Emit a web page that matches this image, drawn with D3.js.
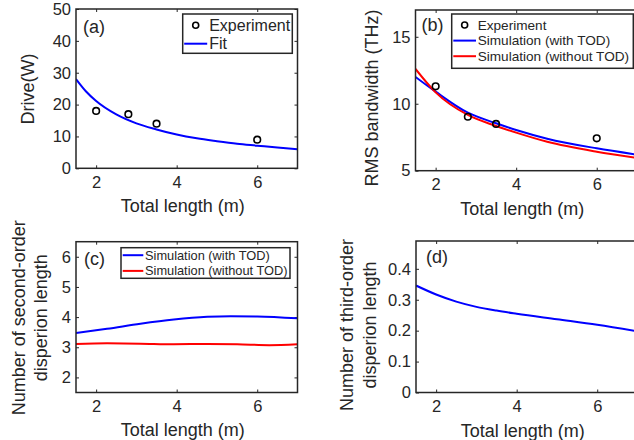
<!DOCTYPE html>
<html><head><meta charset="utf-8">
<script src="https://cdn.jsdelivr.net/npm/d3@7"></script>
<style>
body{margin:0;background:#fff;}
text{font-family:"Liberation Sans",Arial,sans-serif;fill:#262626;}
</style></head>
<body><svg id="c" width="634" height="440"></svg>
<script>
// ---------- data ----------
const xTicks = [2, 4, 6];
// (a)
const expLenA = [2, 2.8, 3.5, 6];
const expDrive = [18, 17, 14, 9];
const fitLen = [1.5, 1.75, 2, 2.5, 3, 3.5, 4, 4.5, 5, 5.5, 6, 6.5, 7];
const fitDrive = [28, 24.1, 21.1, 16.9, 14.1, 12.2, 10.6, 9.4, 8.5, 7.7, 7.1, 6.5, 6.0];
const yTicksA = [0, 10, 20, 30, 40, 50];
// (b)
const expLenB = [2, 2.8, 3.5, 6];
const expBw = [11.3, 9.03, 8.49, 7.42];
const simLenB = [1.5, 2, 2.8, 3.5, 4, 4.77, 6, 7];
const bwWithTOD = [12.0, 10.9, 9.33, 8.54, 8.04, 7.39, 6.67, 6.2];
const bwWithoutTOD = [12.6, 10.85, 9.16, 8.34, 7.84, 7.16, 6.42, 5.96];
const yTicksB = [5, 10, 15];
// (c)
const simLenC1 = [1.5, 2.27, 3.1, 3.93, 4.76, 5.34, 6.0, 7.0];
const ldWithTOD = [3.47, 3.61, 3.78, 3.92, 4.01, 4.03, 4.02, 3.96];
const simLenC2 = [1.5, 2.27, 3.1, 3.93, 4.76, 5.5, 6.3, 7.0];
const ldWithoutTOD = [3.11, 3.13, 3.12, 3.10, 3.11, 3.10, 3.07, 3.10];
const yTicksC = [2, 3, 4, 5, 6];
// (d)
const simLenD = [1.5, 2, 2.5, 3, 3.5, 4, 5, 6, 7];
const l3WithTOD = [0.346, 0.317, 0.294, 0.277, 0.265, 0.255, 0.237, 0.219, 0.198];
const yTicksD = [0, 0.1, 0.2, 0.3, 0.4];

const BLUE = "#0000ff", RED = "#ff0000", AX = "#262626";
const svg = d3.select("#c");

function panel(o) {
  const g = svg.append("g").attr("transform", `translate(${o.x},${o.y})`);
  const x = d3.scaleLinear().domain([1.5, 7]).range([0, o.w]);
  const y = d3.scaleLinear().domain(o.yDom).range([o.h, 0]);
  const fmt = d3.format("~g");
  const styleAxis = sel => {
    sel.select(".domain").remove();
    sel.selectAll("line").attr("stroke", AX).attr("stroke-width", 1);
    sel.selectAll("text").attr("fill", AX).style("font-size", "16.5px")
      .style("font-family", '"Liberation Sans",Arial,sans-serif');
  };
  g.append("g").attr("transform", `translate(0,${o.h})`)
    .call(d3.axisBottom(x).tickValues(xTicks).tickSizeInner(-3).tickSizeOuter(0).tickPadding(8).tickFormat(fmt))
    .call(styleAxis);
  g.append("g")
    .call(d3.axisTop(x).tickValues(xTicks).tickSizeInner(-3).tickSizeOuter(0).tickFormat(""))
    .call(styleAxis);
  g.append("g")
    .call(d3.axisLeft(y).tickValues(o.yTicks).tickSizeInner(-3).tickSizeOuter(0).tickPadding(5).tickFormat(fmt))
    .call(styleAxis);
  g.append("g").attr("transform", `translate(${o.w},0)`)
    .call(d3.axisRight(y).tickValues(o.yTicks).tickSizeInner(-3).tickSizeOuter(0).tickFormat(""))
    .call(styleAxis);

  const clipId = "clip" + o.name;
  g.append("clipPath").attr("id", clipId).append("rect").attr("width", o.w).attr("height", o.h);
  const plot = g.append("g").attr("clip-path", `url(#${clipId})`);
  const line = d3.line().x(d => x(d[0])).y(d => y(d[1])).curve(d3.curveMonotoneX);
  o.lines.forEach(l => {
    plot.append("path").datum(d3.zip(l.xs, l.ys)).attr("d", line)
      .attr("fill", "none").attr("stroke", l.color).attr("stroke-width", 2);
  });
  if (o.points) {
    g.selectAll(null).data(d3.zip(o.points.xs, o.points.ys)).join("circle")
      .attr("cx", d => x(d[0])).attr("cy", d => y(d[1])).attr("r", 3.3)
      .attr("fill", "none").attr("stroke", "#000").attr("stroke-width", 1.6);
  }
  g.append("rect").attr("width", o.w).attr("height", o.h)
    .attr("fill", "none").attr("stroke", AX).attr("stroke-width", 1.5);

  g.append("text").attr("x", o.tagX).attr("y", o.tagY).style("font-size", "18px").text(o.tag);

  // x label
  g.append("text").attr("x", o.w / 2 - 4).attr("y", o.h + 44).attr("text-anchor", "middle")
    .style("font-size", "18px").text("Total length (m)");
  // y label
  o.ylab.forEach((t, i) => {
    g.append("text").attr("transform", `translate(${o.ylabX[i]},${o.ylabY}) rotate(-90)`)
      .attr("text-anchor", "middle").style("font-size", "18px").text(t);
  });
  // legend
  if (o.legend) {
    const L = o.legend;
    const lg = svg.append("g").attr("transform", `translate(${L.x},${L.y})`);
    lg.append("rect").attr("width", L.w).attr("height", L.h).attr("fill", "#fff")
      .attr("stroke", AX).attr("stroke-width", 1.5);
    L.items.forEach((it, i) => {
      const cy = L.row0 + i * L.dy;
      if (it.type === "marker") {
        lg.append("circle").attr("cx", L.sx + L.sw / 2).attr("cy", cy).attr("r", 3)
          .attr("fill", "none").attr("stroke", "#000").attr("stroke-width", 1.6);
      } else {
        lg.append("line").attr("x1", L.sx).attr("x2", L.sx + L.sw).attr("y1", cy).attr("y2", cy)
          .attr("stroke", it.color).attr("stroke-width", 2);
      }
      lg.append("text").attr("x", L.tx).attr("y", cy).attr("dy", "0.35em")
        .style("font-size", L.fs + "px").text(it.label);
    });
  }
}

panel({name: "a", x: 76, y: 9, w: 221.5, h: 159.3, yDom: [0, 50], yTicks: yTicksA,
  lines: [{xs: fitLen, ys: fitDrive, color: BLUE}],
  points: {xs: expLenA, ys: expDrive},
  tag: "(a)", tagX: 7, tagY: 24,
  ylab: ["Drive(W)"], ylabX: [-42], ylabY: 80,
  legend: {x: 182.7, y: 14, w: 109.6, h: 39.3, row0: 11.3, dy: 18.4, sx: 1.5, sw: 23, tx: 26.5, fs: 16,
    items: [{type: "marker", label: "Experiment"}, {type: "line", color: BLUE, label: "Fit"}]}
});

panel({name: "b", x: 415.5, y: 10, w: 221.5, h: 160.7, yDom: [5, 17], yTicks: yTicksB,
  lines: [{xs: simLenB, ys: bwWithTOD, color: BLUE}, {xs: simLenB, ys: bwWithoutTOD, color: RED}],
  points: {xs: expLenB, ys: expBw},
  tag: "(b)", tagX: 6, tagY: 21,
  ylab: ["RMS bandwidth (THz)"], ylabX: [-38], ylabY: 88,
  legend: {x: 451.7, y: 14, w: 181.6, h: 54.3, row0: 11, dy: 15.6, sx: 1.6, sw: 22.7, tx: 26, fs: 13.6,
    items: [{type: "marker", label: "Experiment"}, {type: "line", color: BLUE, label: "Simulation (with TOD)"},
            {type: "line", color: RED, label: "Simulation (without TOD)"}]}
});

panel({name: "c", x: 76, y: 241.7, w: 221.5, h: 150.8, yDom: [1.5, 6.5], yTicks: yTicksC,
  lines: [{xs: simLenC1, ys: ldWithTOD, color: BLUE}, {xs: simLenC2, ys: ldWithoutTOD, color: RED}],
  tag: "(c)", tagX: 8, tagY: 23,
  ylab: ["Number of second-order", "disperion length"], ylabX: [-51, -29], ylabY: 76,
  legend: {x: 121, y: 247.7, w: 169, h: 30.6, row0: 7.5, dy: 15.7, sx: 1.7, sw: 20.6, tx: 24, fs: 12.8,
    items: [{type: "line", color: BLUE, label: "Simulation (with TOD)"},
            {type: "line", color: RED, label: "Simulation (without TOD)"}]}
});

panel({name: "d", x: 416, y: 241, w: 221.5, h: 151.5, yDom: [0, 0.49], yTicks: yTicksD,
  lines: [{xs: simLenD, ys: l3WithTOD, color: BLUE}],
  tag: "(d)", tagX: 10, tagY: 22,
  ylab: ["Number of third-order", "disperion length"], ylabX: [-63, -40], ylabY: 84,
  legend: null
});
</script></body></html>
